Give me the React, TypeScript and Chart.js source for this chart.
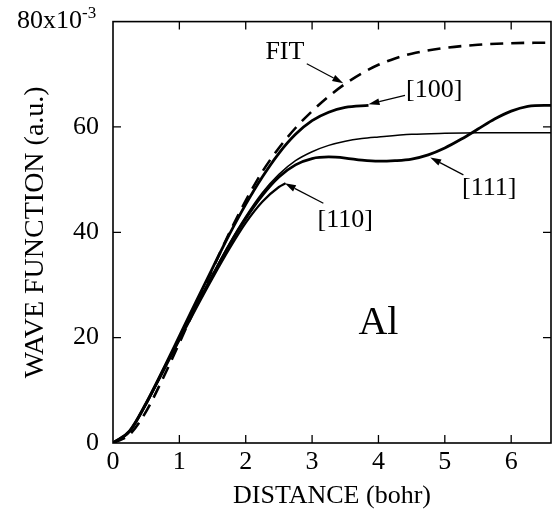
import React, { useEffect, useRef } from 'react';
import { Chart, registerables } from 'chart.js';

Chart.register(...registerables);

const SERIF = '"Liberation Serif", "Times New Roman", serif';

// ---- data (x in bohr, y in 10^-3 a.u.) ----
const fitX = [0, 0.25, 0.5, 0.75, 1, 1.25, 1.5, 1.75, 2, 2.25, 2.5, 2.75, 3, 3.25, 3.5, 3.75, 4, 4.25, 4.5, 5, 5.5, 6, 6.6];
const fitY = [0, 1.6, 6, 12.2, 19, 26, 33, 39.8, 46, 51.5, 56, 59.8, 63, 65.8, 68.2, 70.2, 71.8, 73, 73.9, 75, 75.6, 75.9, 76];

const x100 = [0, 0.25, 0.5, 0.75, 1, 1.25, 1.5, 1.75, 2, 2.25, 2.5, 2.75, 3, 3.25, 3.5, 3.85];
const y100 = [0, 2.2, 7.5, 13.8, 20.3, 26.8, 33.2, 39.5, 45.3, 50.5, 55, 58.6, 61.2, 62.8, 63.7, 64.1];

const x110 = [0, 0.25, 0.5, 0.75, 1, 1.25, 1.5, 1.75, 2, 2.25, 2.5, 2.6];
const y110 = [0, 2.2, 7.4, 13.4, 19.5, 25.5, 31.3, 36.8, 41.8, 45.8, 48.6, 49.3];

const x111 = [0, 0.25, 0.5, 0.75, 1, 1.25, 1.5, 1.75, 2, 2.25, 2.5, 2.75, 3, 3.25, 3.5, 3.75, 4, 4.25, 4.5, 4.75, 5, 5.25, 5.5, 5.75, 6, 6.25, 6.5, 6.6];
const y111 = [0, 2.3, 7.6, 13.7, 19.8, 25.9, 31.8, 37.5, 42.6, 47, 50.5, 52.8, 54, 54.3, 54.1, 53.7, 53.5, 53.6, 53.9, 54.7, 56, 57.7, 59.6, 61.5, 63, 63.9, 64.1, 64.1];

const xThin = [0, 0.25, 0.5, 0.75, 1, 1.25, 1.5, 1.75, 2, 2.25, 2.5, 2.75, 3, 3.25, 3.5, 3.75, 4, 4.5, 5, 5.5, 6, 6.6];
const yThin = [0, 2.2, 7.5, 13.6, 19.8, 26, 32, 37.8, 43, 47.5, 51, 53.6, 55.3, 56.5, 57.3, 57.8, 58.1, 58.6, 58.8, 58.9, 58.9, 58.9];

const xTicks = [0, 1, 2, 3, 4, 5, 6];
const yTicks = [0, 20, 40, 60, 80];

// annotations: label text, label position, arrow start, arrow end (data coords)
const labelTexts = ['FIT', '[100]', '[111]', '[110]'];
const labelPos = [[2.59, 74.2], [4.84, 67.0], [5.67, 48.4], [3.5, 42.3]];
const arrowFrom = [[2.92, 72.0], [4.40, 66.0], [5.28, 50.9], [3.17, 45.5]];
const arrowTo = [[3.47, 68.3], [3.85, 64.3], [4.78, 54.2], [2.59, 49.3]];
const elementLabel = 'Al';
const elementPos = [4.0, 22.6];

const pts = (xs: number[], ys: number[]) => xs.map((x, i) => ({ x, y: ys[i] }));

const overlay = {
  id: 'overlay',
  afterDraw(chart: any) {
    const { ctx, chartArea: a, scales } = chart;
    const xs = scales.x;
    const ys = scales.y;
    const px = (v: number) => xs.getPixelForValue(v);
    const py = (v: number) => ys.getPixelForValue(v);
    const TL = 8;
    ctx.save();
    ctx.strokeStyle = '#000';
    ctx.fillStyle = '#000';
    ctx.lineWidth = 1.6;
    ctx.strokeRect(a.left, a.top, a.right - a.left, a.bottom - a.top);
    ctx.lineWidth = 1.3;
    ctx.beginPath();
    xs.ticks.forEach((t: any) => {
      if (t.value <= xs.min || t.value >= xs.max) return;
      const p = px(t.value);
      ctx.moveTo(p, a.bottom); ctx.lineTo(p, a.bottom - TL);
      ctx.moveTo(p, a.top); ctx.lineTo(p, a.top + TL);
    });
    ys.ticks.forEach((t: any) => {
      if (t.value <= ys.min || t.value >= ys.max) return;
      const p = py(t.value);
      ctx.moveTo(a.left, p); ctx.lineTo(a.left + TL, p);
      ctx.moveTo(a.right, p); ctx.lineTo(a.right - TL, p);
    });
    ctx.stroke();

    // 80x10^-3 label
    const y80 = py(80);
    ctx.font = `26px ${SERIF}`;
    ctx.textAlign = 'right';
    ctx.textBaseline = 'middle';
    ctx.fillText('80x10', a.left - 31, y80);
    ctx.font = `17px ${SERIF}`;
    ctx.textAlign = 'left';
    ctx.textBaseline = 'alphabetic';
    ctx.fillText('-3', a.left - 31, y80 - 4);

    // labels
    ctx.font = `26px ${SERIF}`;
    ctx.textAlign = 'center';
    ctx.textBaseline = 'middle';
    labelTexts.forEach((t, i) => {
      ctx.fillText(t, px(labelPos[i][0]), py(labelPos[i][1]));
    });
    ctx.font = `40px ${SERIF}`;
    ctx.fillText(elementLabel, px(elementPos[0]), py(elementPos[1]));

    // arrows
    ctx.lineWidth = 1.2;
    arrowFrom.forEach((f, i) => {
      const x1 = px(f[0]), y1 = py(f[1]);
      const x2 = px(arrowTo[i][0]), y2 = py(arrowTo[i][1]);
      const ang = Math.atan2(y2 - y1, x2 - x1);
      const hl = 11, hw = 3.4;
      const bx = x2 - hl * Math.cos(ang), by = y2 - hl * Math.sin(ang);
      ctx.beginPath();
      ctx.moveTo(x1, y1); ctx.lineTo(bx, by);
      ctx.stroke();
      ctx.beginPath();
      ctx.moveTo(x2, y2);
      ctx.lineTo(bx + hw * Math.sin(ang), by - hw * Math.cos(ang));
      ctx.lineTo(bx - hw * Math.sin(ang), by + hw * Math.cos(ang));
      ctx.closePath();
      ctx.fill();
    });
    ctx.restore();
  },
};

export default function App() {
  const ref = useRef<HTMLCanvasElement>(null);
  useEffect(() => {
    const base = { borderColor: '#000', pointRadius: 0, fill: false, cubicInterpolationMode: 'monotone' as const };
    const chart = new Chart(ref.current!, {
      type: 'line',
      data: {
        datasets: [
          { ...base, label: 'FIT', data: pts(fitX, fitY), borderWidth: 2.6, borderDash: [13, 8] },
          { ...base, label: '[100]', data: pts(x100, y100), borderWidth: 2.8 },
          { ...base, label: '[110]', data: pts(x110, y110), borderWidth: 2.2 },
          { ...base, label: '[111]', data: pts(x111, y111), borderWidth: 2.8 },
          { ...base, label: 'avg', data: pts(xThin, yThin), borderWidth: 1.5 },
        ],
      },
      options: {
        responsive: false,
        animation: false,
        layout: { padding: { top: 21, right: 2, left: 0, bottom: 0 } },
        plugins: { legend: { display: false }, tooltip: { enabled: false } },
        scales: {
          x: {
            type: 'linear',
            min: 0,
            max: 6.6,
            grid: { display: false },
            border: { display: false },
            afterFit: (s: any) => { s.height = 75; },
            afterBuildTicks: (s: any) => { s.ticks = xTicks.map((v) => ({ value: v })); },
            ticks: {
              color: '#000',
              padding: -4,
              maxRotation: 0,
              autoSkip: false,
              font: { family: SERIF, size: 26 },
            },
            title: {
              display: true,
              text: 'DISTANCE (bohr)',
              color: '#000',
              font: { family: SERIF, size: 26 },
              padding: { top: 0, bottom: 6 },
            },
          },
          y: {
            type: 'linear',
            min: 0,
            max: 80,
            grid: { display: false },
            border: { display: false },
            afterFit: (s: any) => { s.width = 113; },
            afterBuildTicks: (s: any) => { s.ticks = yTicks.map((v) => ({ value: v })); },
            ticks: {
              color: '#000',
              padding: 6,
              autoSkip: false,
              font: { family: SERIF, size: 26 },
              callback: (v: any) => (v === 80 ? '' : String(v)),
            },
            title: {
              display: true,
              text: 'WAVE FUNCTION (a.u.)',
              color: '#000',
              font: { family: SERIF, size: 28 },
              padding: { top: 19, bottom: 0 },
            },
          },
        },
      },
      plugins: [overlay],
    } as any);
    return () => chart.destroy();
  }, []);
  return (
    <div style={{ position: 'absolute', left: 0, top: 0, width: 553, height: 518, background: '#fff' }}>
      <canvas ref={ref} width={553} height={518} style={{ display: 'block' }} />
    </div>
  );
}
